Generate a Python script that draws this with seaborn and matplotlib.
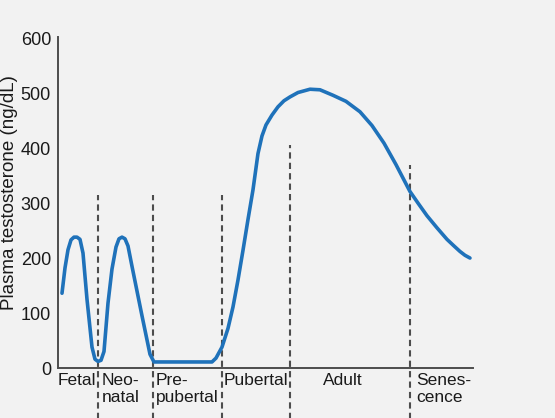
"""Plasma testosterone across the male life span."""

import matplotlib.pyplot as plt
import pandas as pd
import seaborn as sns

# curve (x = position along the life-span axis)
age_pos = [4, 7, 10, 13, 16, 19, 22, 25, 29, 34, 37, 40, 43, 46, 50,
           54, 58, 61, 64, 67, 70, 74, 84, 92, 96, 154, 158, 164, 170,
           175, 180, 185, 190, 195, 200, 204, 208, 214, 220, 226, 232,
           240, 252, 262, 275, 288, 302, 314, 326, 338, 352, 360, 369,
           379, 389, 396, 402, 407, 412]
testosterone = [136, 182, 215, 233, 238, 238, 234, 209, 125, 38, 16, 12, 14, 30, 118,
                180, 220, 235, 238, 235, 222, 185, 95, 25, 11, 11, 18, 38, 72,
                111, 160, 214, 270, 324, 390, 422, 442, 460, 475, 486, 493,
                501, 507, 506, 496, 485, 466, 441, 409, 370, 321, 300, 277,
                255, 234, 222, 212, 205, 200]

# phase boundaries and how high each dashed line reaches
boundary_pos = [40, 95, 164, 232, 352]
boundary_top = [315, 315, 315, 405, 369]

phase_labels = ["Fetal", "Neo-\nnatal", "Pre-\npubertal", "Pubertal", "Adult", "Senes-\ncence"]
label_pos = [19, 44, 98, 166, 285, 358]
label_align = ["center", "left", "left", "left", "center", "left"]

y_ticks = [0, 100, 200, 300, 400, 500, 600]

BG = "#f2f2f2"
BLUE = "#1f72ba"
GREY = "#4d4d4d"
INK = "#1a1a1a"

sns.set_theme(style="white")
plt.rcParams["font.family"] = ["Liberation Sans", "DejaVu Sans"]

fig = plt.figure(figsize=(5.55, 4.18), dpi=100, facecolor=BG)
ax = fig.add_axes([0.1045, 0.1196, 0.7477, 0.7919], facecolor=BG)

curve = pd.DataFrame({"age": age_pos, "testosterone": testosterone})
sns.lineplot(data=curve, x="age", y="testosterone", estimator=None, sort=False,
             color=BLUE, linewidth=2.6, solid_capstyle="round", ax=ax)

for pos, top in zip(boundary_pos, boundary_top):
    ax.plot([pos, pos], [-95, top], color=GREY, linewidth=1.5,
            linestyle=(0, (3.0, 2.0)), clip_on=False, zorder=1)

for text, pos, ha in zip(phase_labels, label_pos, label_align):
    ax.text(pos, -9, text, ha=ha, va="top", fontsize=12.5, color=INK,
            linespacing=1.2)

ax.set_xlim(0, 415)
ax.set_ylim(0, 602)
ax.set_xticks([])
ax.set_yticks(y_ticks)
ax.tick_params(axis="y", length=0, pad=5, labelsize=13, labelcolor=INK)
ax.set_xlabel("")
ax.set_ylabel("Plasma testosterone (ng/dL)", fontsize=13.5, color=INK,
              va="center")
ax.yaxis.set_label_coords(-0.118, 0.53)

for side in ("top", "right"):
    ax.spines[side].set_visible(False)
for side in ("left", "bottom"):
    ax.spines[side].set_color(GREY)
    ax.spines[side].set_linewidth(1.4)

fig.savefig("out.png", dpi=100, facecolor=BG)
